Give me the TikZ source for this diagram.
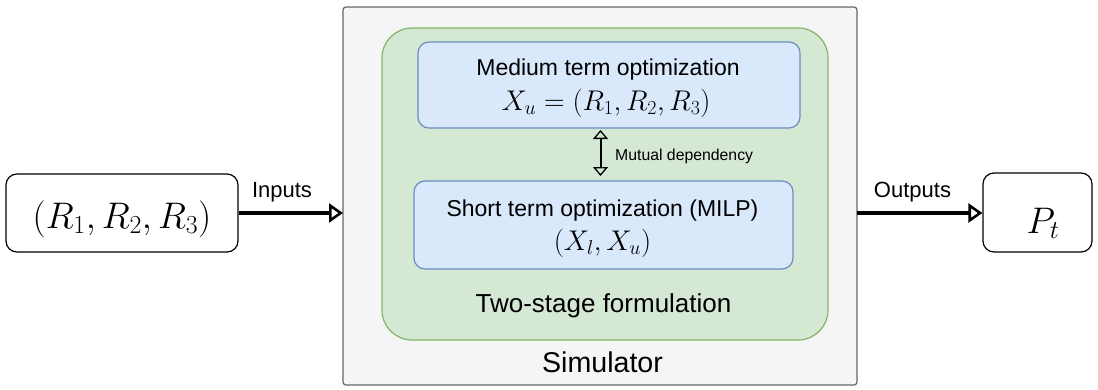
\RequirePackage{fix-cm}
\documentclass[tikz,border=0pt]{standalone}
\usepackage{fontspec}
\setmainfont{Liberation Sans}
\usetikzlibrary{arrows.meta}
\definecolor{simfill}{HTML}{F5F5F5}
\definecolor{simdraw}{HTML}{666666}
\definecolor{grnfill}{HTML}{D5E8D4}
\definecolor{grndraw}{HTML}{82B366}
\definecolor{blufill}{HTML}{DAE8FC}
\definecolor{bludraw}{HTML}{6C8EBF}
\tikzset{
  box/.style={draw, line width=1.2pt, rounded corners=11pt, inner sep=0pt},
  optbox/.style={box, fill=blufill, draw=bludraw},
  iobox/.style={box, fill=white},
  flow/.style={line width=4pt, -{Triangle[open, length=14pt, width=19pt, line width=2.6pt]}},
  deptip/.tip={Triangle[open, length=9pt, width=15pt, line width=1.3pt]},
  dep/.style={line width=2pt, {deptip}-{deptip}},
  txt/.style={anchor=base, inner sep=0pt},
  optxt/.style={txt, font=\fontsize{23}{27}\selectfont},
  opmath/.style={txt, font=\fontsize{28.5}{32}\selectfont},
  iomath/.style={txt, font=\fontsize{37}{42}\selectfont},
  arrlbl/.style={txt, font=\fontsize{22}{26}\selectfont}
}
\begin{document}
\begin{tikzpicture}[x=1pt, y=-1pt]
\useasboundingbox (0,0) rectangle (1098,389);
% outer simulator block
\draw[fill=simfill, draw=simdraw, line width=1.2pt, rounded corners=3pt] (343,7) rectangle (857,385);
\node[txt, font=\fontsize{28.6}{32}\selectfont] (sim) at (602.5,372) {Simulator};
% two-stage container
\draw[fill=grnfill, draw=grndraw, line width=1.2pt, rounded corners=30pt] (382,28) rectangle (828,340);
\node[txt, font=\fontsize{26}{30}\selectfont] (two) at (603.5,312) {Two-stage formulation};
% medium term optimisation
\node[optbox, minimum width=382pt, minimum height=86pt] (med) at (609,85) {};
\node[optxt] (medt) at (608,75) {Medium term optimization};
\node[opmath] (medm) at (606,110) {$X_u=(R_1,R_2,R_3)$};
% short term optimisation
\node[optbox, minimum width=379pt, minimum height=88pt] (sho) at (603.5,225) {};
\node[optxt] (shot) at (602.5,216) {Short term optimization (MILP)};
\node[opmath] (shom) at (602.5,250) {$(X_l,X_u)$};
% coupling between the two stages
\coordinate (dtop) at (600.5,130);
\coordinate (dbot) at (600.5,176);
\draw[dep] (dtop) -- (dbot);
\node[txt, anchor=base west, font=\fontsize{15.8}{18}\selectfont] (deplbl) at (615,160.5) {Mutual dependency};
% input and output blocks
\node[iobox, minimum width=232pt, minimum height=78pt] (in) at (122,213) {};
\node[iomath] (inm) at (122,228) {$(R_1,R_2,R_3)$};
\node[iobox, minimum width=109pt, minimum height=79pt] (out) at (1037.5,212.5) {};
\node[iomath] (outm) at (1043,233) {$P_t$};
\coordinate (simL) at (343,213);
\coordinate (simR) at (857,213);
\draw[flow] (in.east |- simL) -- (simL);
\draw[flow] (simR) -- (out.west |- simR);
\node[arrlbl] (inlbl) at (282,197) {Inputs};
\node[arrlbl] (outlbl) at (912.5,197) {Outputs};
\end{tikzpicture}
\end{document}
